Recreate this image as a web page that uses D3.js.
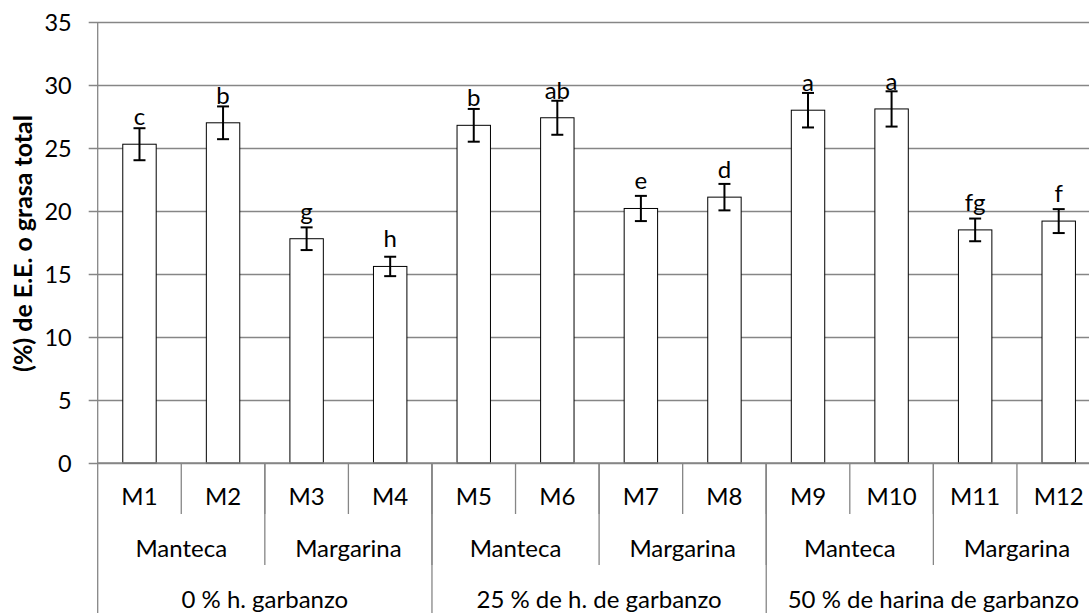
<!DOCTYPE html>
<html>
<head>
<meta charset="utf-8">
<script src="https://cdn.jsdelivr.net/npm/d3@7/dist/d3.min.js"></script>
<style>
  html, body { margin: 0; padding: 0; background: #fff; }
  svg { display: block; }
  text { font-family: Lato, "Open Sans", sans-serif; fill: #000; }
</style>
</head>
<body>
<svg id="chart" width="1089" height="613"></svg>
<script>
// Muestras, contenido de grasa (%) y desviación
const muestras = ["M1", "M2", "M3", "M4", "M5", "M6", "M7", "M8", "M9", "M10", "M11", "M12"];
const grasa    = [25.3, 27.0, 17.8, 15.6, 26.8, 27.4, 20.2, 21.1, 28.0, 28.1, 18.5, 19.2];
const errores  = [1.27, 1.30, 0.90, 0.77, 1.30, 1.35, 1.00, 1.05, 1.37, 1.40, 0.90, 0.95];
const letras   = ["c", "b", "g", "h", "b", "ab", "e", "d", "a", "a", "fg", "f"];
// Tipo de grasa y nivel de harina de garbanzo de cada muestra
const tipoGrasa = ["Manteca", "Manteca", "Margarina", "Margarina",
                   "Manteca", "Manteca", "Margarina", "Margarina",
                   "Manteca", "Manteca", "Margarina", "Margarina"];
const nivelHarina = ["0 % h. garbanzo", "0 % h. garbanzo", "0 % h. garbanzo", "0 % h. garbanzo",
                     "25 % de h. de garbanzo", "25 % de h. de garbanzo", "25 % de h. de garbanzo", "25 % de h. de garbanzo",
                     "50 % de harina de garbanzo", "50 % de harina de garbanzo", "50 % de harina de garbanzo", "50 % de harina de garbanzo"];
const yTicks = [0, 5, 10, 15, 20, 25, 30, 35];
const tituloY = "(%) de E.E. o grasa total";

const svg = d3.select("#chart");
const plotLeft = 97.7, plotRight = 1100.5, plotTop = 22, plotBottom = 463;
const rowBottoms = [514, 565, 640];
const rowBaselines = [505, 557, 608];
const fontSize = 24;
const tickFontSize = 23.5;
const gridColor = "#868686";

const x = d3.scaleBand().domain(muestras).range([plotLeft, plotRight]).paddingInner(0).paddingOuter(0);
const y = d3.scaleLinear().domain([0, 35]).range([plotBottom, plotTop]);
const barW = x.bandwidth() / 2.5;

// Gridlines and value axis
const yAxis = d3.axisLeft(y).tickValues(yTicks).tickSize(-(plotRight - plotLeft)).tickPadding(0).tickFormat(d3.format("d"));
const gy = svg.append("g").attr("transform", `translate(${plotLeft},0)`).call(yAxis);
gy.select(".domain").remove();
gy.selectAll(".tick line").attr("stroke", gridColor).attr("stroke-width", 1.3).attr("x1", -9);
gy.selectAll(".tick text")
  .attr("x", 71.7 - plotLeft).attr("dy", null).attr("y", 8.5)
  .attr("text-anchor", "end").attr("font-size", tickFontSize)
  .style("font-family", "Lato, sans-serif").attr("fill", "#000");

// Left axis line, continued down through the category rows
svg.append("line").attr("x1", plotLeft).attr("x2", plotLeft)
  .attr("y1", plotTop).attr("y2", rowBottoms[2])
  .attr("stroke", gridColor).attr("stroke-width", 1.3);

// Bars
svg.append("g").selectAll("rect").data(muestras).join("rect")
  .attr("x", (d) => x(d) + (x.bandwidth() - barW) / 2)
  .attr("y", (d, i) => y(grasa[i]))
  .attr("width", barW)
  .attr("height", (d, i) => y(0) - y(grasa[i]))
  .attr("fill", "#fff").attr("stroke", "#000").attr("stroke-width", 1);

// Category axis baseline
svg.append("line").attr("x1", plotLeft).attr("x2", plotRight)
  .attr("y1", plotBottom).attr("y2", plotBottom)
  .attr("stroke", gridColor).attr("stroke-width", 1.3);

// Error bars
const eb = svg.append("g").attr("stroke", "#000").attr("stroke-width", 2);
muestras.forEach((m, i) => {
  const cx = x(m) + x.bandwidth() / 2;
  const hi = y(grasa[i] + errores[i]), lo = y(grasa[i] - errores[i]);
  eb.append("line").attr("x1", cx).attr("x2", cx).attr("y1", hi).attr("y2", lo);
  eb.append("line").attr("x1", cx - 6).attr("x2", cx + 6).attr("y1", hi).attr("y2", hi);
  eb.append("line").attr("x1", cx - 6).attr("x2", cx + 6).attr("y1", lo).attr("y2", lo);
});

// Significance letters
svg.append("g").selectAll("text").data(muestras).join("text")
  .attr("x", (d) => x(d) + x.bandwidth() / 2)
  .attr("y", (d, i) => y(grasa[i]) - 19)
  .attr("text-anchor", "middle").attr("font-size", fontSize)
  .text((d, i) => letras[i]);

// Multi-level category axis
function spans(keys) {
  const out = [];
  keys.forEach((k, i) => {
    const last = out[out.length - 1];
    const isNew = !last || last.label !== k || nivelHarina[i] !== nivelHarina[last.start];
    if (isNew) out.push({ label: k, start: i, end: i });
    else last.end = i;
  });
  return out;
}
const levels = [
  muestras.map((m, i) => ({ label: m, start: i, end: i })),
  spans(tipoGrasa),
  spans(nivelHarina)
];
const cat = svg.append("g");
levels.forEach((lv, li) => {
  lv.forEach((s) => {
    const x0 = x(muestras[s.start]);
    const x1 = x(muestras[s.end]) + x.bandwidth();
    cat.append("line").attr("x1", x1).attr("x2", x1)
      .attr("y1", plotBottom).attr("y2", rowBottoms[li])
      .attr("stroke", gridColor).attr("stroke-width", 1.3);
    cat.append("text").attr("x", (x0 + x1) / 2).attr("y", rowBaselines[li])
      .attr("text-anchor", "middle").attr("font-size", fontSize)
      .text(s.label);
  });
});

// Value axis title, sized to span 257 px along the axis
const title = svg.append("text")
  .attr("transform", `translate(32.3, 243.5) rotate(-90)`)
  .attr("text-anchor", "middle").attr("font-size", 22).attr("font-weight", "bold")
  .text(tituloY);
const len = title.node().getComputedTextLength();
if (len > 0) title.attr("font-size", 22 * 257 / len);
</script>
</body>
</html>
